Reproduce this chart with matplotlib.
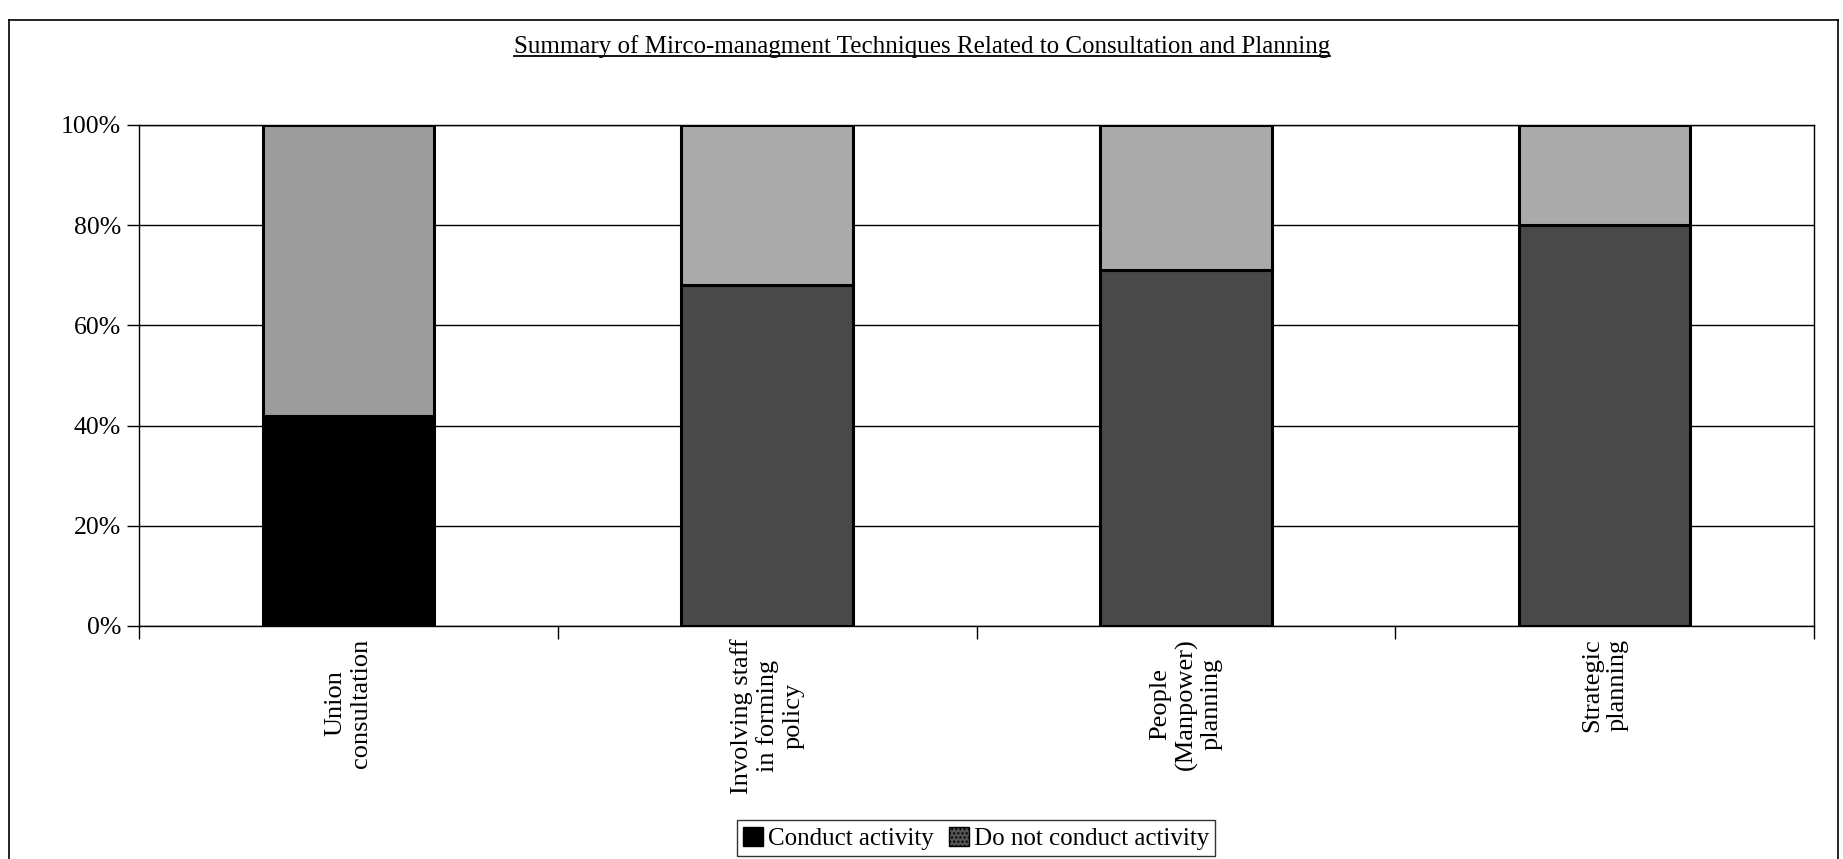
import matplotlib
matplotlib.use("Agg")
import matplotlib.pyplot as plt
from matplotlib.lines import Line2D
from matplotlib.patches import Patch
import numpy as np

plt.rcParams['font.family'] = ['Liberation Serif', 'DejaVu Serif']

# Data
categories = ["Union\nconsultation",
              "Involving staff\nin forming\npolicy",
              "People\n(Manpower)\nplanning",
              "Strategic\nplanning"]
conduct = [42, 68, 71, 80]
not_conduct = [100 - v for v in conduct]
series_names = ["Conduct activity", "Do not conduct activity"]
ytick_labels = ["0%", "20%", "40%", "60%", "80%", "100%"]

W, H = 1843, 859
fig = plt.figure(figsize=(W / 100, H / 100), dpi=100)
ax = fig.add_axes([139 / W, 1 - 626 / H, (1814 - 139) / W, (626 - 125) / H])

x = np.arange(len(categories))
low_colors = ["#000000", "#494949", "#494949", "#494949"]
high_colors = ["#9c9c9c", "#aaaaaa", "#aaaaaa", "#aaaaaa"]
width = 0.41

ax.bar(x, conduct, width=width, color=low_colors, edgecolor="black",
       linewidth=2.2, zorder=3)
ax.bar(x, not_conduct, bottom=conduct, width=width, color=high_colors,
       edgecolor="black", linewidth=2.2, zorder=3)

ax.set_xlim(-0.5, len(categories) - 0.5)
ax.set_ylim(0, 100)
ax.set_yticks(np.arange(0, 101, 20))
ax.set_yticklabels(ytick_labels, fontsize=18.5)
ax.yaxis.grid(True, color="black", linewidth=1, zorder=0)
ax.tick_params(axis="y", direction="out", length=9, width=1, pad=4)

# category ticks on boundaries, labels at bar centres
ax.set_xticks(x)
ax.set_xticklabels([])
ax.tick_params(axis="x", which="major", length=0)
ax.set_xticks(np.arange(-0.5, len(categories), 1.0), minor=True)
ax.tick_params(axis="x", which="minor", direction="out", length=9, width=1)

for xi, lab in zip(x, categories):
    ax.text(xi, -2.5, lab, rotation=90, ha="center", va="top",
            multialignment="center", fontsize=19)

for s in ax.spines.values():
    s.set_color("black")
    s.set_linewidth(1)

# legend
handles = [Patch(facecolor="#000000", edgecolor="black"),
           Patch(facecolor="#555555", edgecolor="black", hatch="....")]
leg = fig.legend(handles, series_names, loc="lower center",
                 bbox_to_anchor=(976 / W, 3 / H), ncol=2, fontsize=18,
                 frameon=True, fancybox=False, shadow=False,
                 handlelength=0.8, handleheight=0.8, handletextpad=0.2,
                 columnspacing=0.6, borderpad=0.25, borderaxespad=0)
leg.get_frame().set_edgecolor("black")
leg.get_frame().set_linewidth(1)

# title with underline
title = fig.text(922 / W, 1 - 47 / H,
                 "Summary of Mirco-managment Techniques Related to Consultation and Planning",
                 ha="center", va="center", fontsize=18)
fig.canvas.draw()
bb = title.get_window_extent()
uy = bb.y0 + 2
fig.add_artist(Line2D([bb.x0 / W, bb.x1 / W], [uy / H, uy / H],
                      transform=fig.transFigure, color="black", linewidth=1.3))

# outer chart frame
frame_kw = dict(transform=fig.transFigure, color="black", linewidth=1.2)
fig.add_artist(Line2D([9 / W, 9 / W], [0, 1 - 20 / H], **frame_kw))
fig.add_artist(Line2D([9 / W, 1838 / W], [1 - 20 / H, 1 - 20 / H], **frame_kw))
fig.add_artist(Line2D([1838 / W, 1838 / W], [0, 1 - 20 / H], **frame_kw))

fig.savefig("out.png", dpi=100)
